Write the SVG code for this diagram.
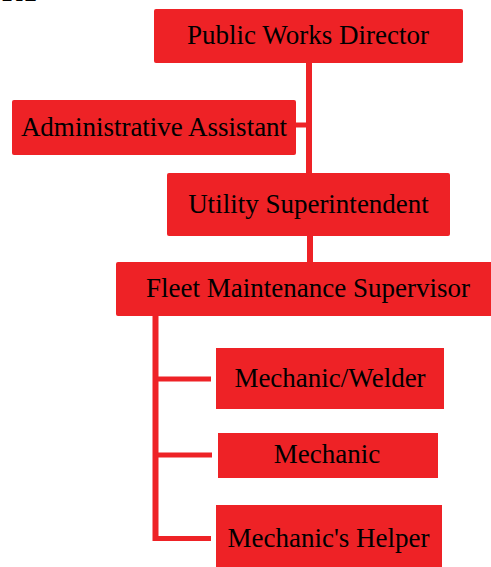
<svg xmlns="http://www.w3.org/2000/svg" width="491" height="567" viewBox="0 0 491 567">
<style>
.box{fill:#EE2226;}
.lbl{font-family:"Liberation Serif","Times New Roman",serif;font-size:27px;fill:#000;text-anchor:middle;}
.ln{stroke:#EE2226;stroke-width:6;fill:none;}
.stub{stroke:#EE2226;stroke-width:5;fill:none;}
</style>
<rect width="491" height="567" fill="#fff"/>
<text x="2" y="1" style="font-family:'Liberation Serif',serif;font-size:28px;font-weight:bold;fill:#000">RT</text>
<g id="connectors">
<line class="ln" x1="309" y1="62" x2="309" y2="174"/>
<line class="stub" x1="295" y1="125" x2="309" y2="125"/>
<line class="ln" x1="310" y1="235" x2="310" y2="263"/>
<line class="ln" x1="155.5" y1="315" x2="155.5" y2="541"/>
<line class="stub" x1="155" y1="379" x2="211" y2="379"/>
<line class="stub" x1="155" y1="455" x2="212" y2="455"/>
<line class="stub" x1="153" y1="538.5" x2="211" y2="538.5"/>
</g>
<g id="public-works-director">
<rect class="box" x="154" y="9" width="309" height="54" rx="2"/>
<text class="lbl" x="308" y="44">Public Works Director</text>
</g>
<g id="administrative-assistant">
<rect class="box" x="12" y="100" width="284" height="55" rx="2"/>
<text class="lbl" x="154" y="136">Administrative Assistant</text>
</g>
<g id="utility-superintendent">
<rect class="box" x="167" y="173" width="283" height="63" rx="2"/>
<text class="lbl" x="308.5" y="213">Utility Superintendent</text>
</g>
<g id="fleet-maintenance-supervisor">
<rect class="box" x="116" y="262" width="380" height="54" rx="2"/>
<text class="lbl" x="308" y="297">Fleet Maintenance Supervisor</text>
</g>
<g id="mechanic-welder">
<rect class="box" x="216" y="348" width="228" height="61"/>
<text class="lbl" x="330" y="387">Mechanic/Welder</text>
</g>
<g id="mechanic">
<rect class="box" x="218" y="433" width="220" height="45"/>
<text class="lbl" x="327" y="463">Mechanic</text>
</g>
<g id="mechanics-helper">
<rect class="box" x="216" y="505" width="226" height="70"/>
<text class="lbl" x="328.5" y="547">Mechanic's Helper</text>
</g>
</svg>
